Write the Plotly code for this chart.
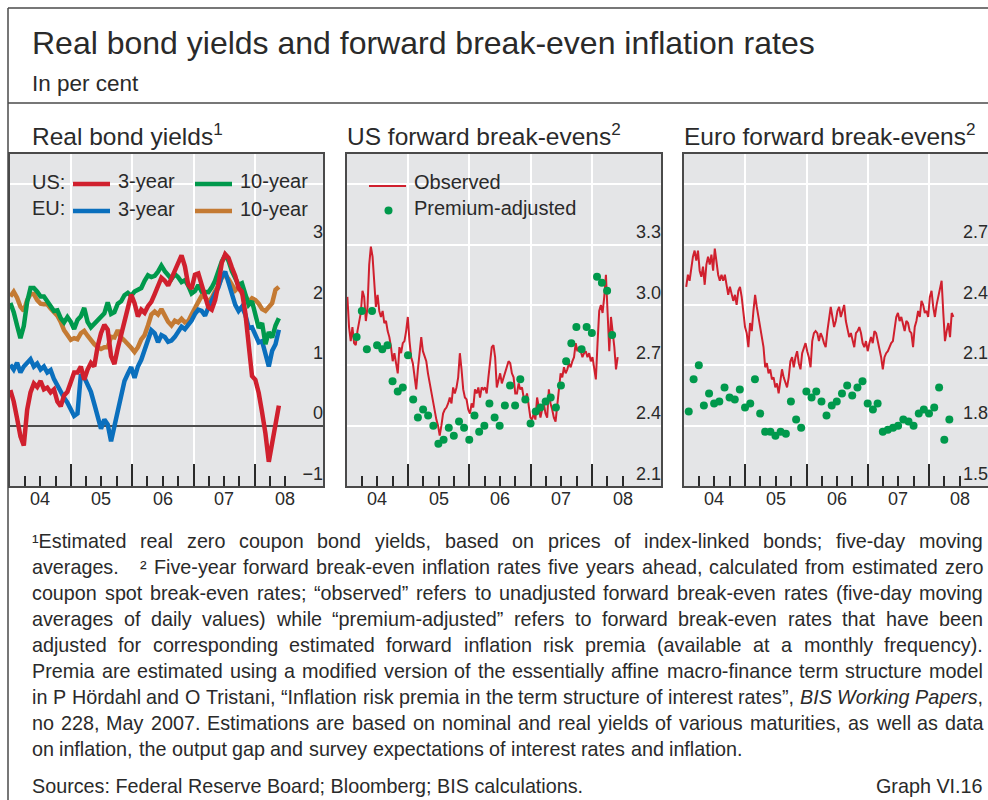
import re
import pandas as pd
import plotly.graph_objects as go

# ---------------------------------------------------------------- data
# Real zero coupon bond yields (five-day moving averages), every 20 days
real_dates = pd.date_range("2004-01-05", periods=81, freq="20D")
us_3y = [0.59, 0.40, 0.12, -0.18, -0.33, 0.26, 0.55, 0.70, 0.64, 0.74,
         0.60, 0.63, 0.55, 0.60, 0.40, 0.32, 0.50, 0.56, 0.72, 0.88,
         0.88, 0.98, 0.76, 0.93, 1.04, 0.98, 1.31, 1.53, 1.67, 1.59,
         1.15, 1.02, 1.28, 1.50, 1.76, 1.98, 2.17, 2.03, 1.81, 1.92,
         1.87, 1.98, 2.05,
         2.18, 2.30, 2.45, 2.40, 2.32, 2.44, 2.58, 2.68, 2.82, 2.64,
         2.33, 2.27, 2.50, 2.52, 2.32, 2.12, 1.96, 1.92, 2.08, 2.35,
         2.70, 2.84, 2.78, 2.62, 2.48, 2.28, 2.22, 1.87, 1.25, 0.82,
         0.76, 0.54, 0.22, -0.13, -0.60, -0.30, 0.09, 0.33]
us_10y = [2.03, 1.88, 1.66, 1.45, 1.65, 2.05, 2.28, 2.28, 2.22, 2.14,
          2.14, 2.05, 1.99, 1.90, 1.91, 1.78, 1.71, 1.80, 1.72, 1.60,
          1.75, 1.81, 1.95, 1.72, 1.63, 1.69, 1.76, 1.80, 1.86, 2.04,
          1.85, 1.88, 2.02, 2.06, 2.16, 2.20, 2.15, 2.22, 2.25, 2.28,
          2.40, 2.49, 2.46,
          2.48, 2.55, 2.65, 2.56, 2.49, 2.43, 2.51, 2.46, 2.38, 2.41,
          2.32, 2.19, 2.23, 2.33, 2.22, 2.22, 2.21, 2.29, 2.40, 2.56,
          2.72, 2.82, 2.73, 2.56, 2.44, 2.33, 2.36, 2.18, 2.00, 2.06,
          1.80, 1.62, 1.70, 1.35, 1.55, 1.46, 1.66, 1.78]
eu_3y = [1.01, 0.93, 1.04, 0.88, 0.98, 1.04, 1.10, 0.98, 1.03, 0.93,
         0.98, 0.88, 0.92, 0.77, 0.66, 0.55, 0.46, 0.38, 0.27, 0.16,
         0.20, 0.85, 0.80, 0.68, 0.56, 0.36, 0.15, -0.05, 0.10, 0.02,
         -0.26, -0.02, 0.26, 0.48, 0.74, 0.86, 0.97, 0.79, 0.98, 1.09,
         1.25, 1.42, 1.58,
         1.53, 1.38, 1.50, 1.47, 1.39, 1.41, 1.47, 1.57, 1.64, 1.60,
         1.66, 1.74, 1.85, 1.92, 1.90, 1.82, 1.96, 2.10, 2.19, 2.29,
         2.47, 2.55, 2.35, 2.15, 2.00, 1.90, 1.97, 1.84, 1.62, 1.63,
         1.50, 1.38, 1.40, 1.15, 0.98, 1.24, 1.35, 1.59]
eu_10y = [2.14, 2.22, 2.12, 1.97, 1.90, 2.08, 2.18, 2.18, 2.08, 2.02,
          2.01, 2.01, 1.94, 1.88, 1.82, 1.72, 1.58, 1.50, 1.42, 1.45,
          1.43, 1.53, 1.57, 1.49, 1.41, 1.35, 1.30, 1.27, 1.30, 1.30,
          1.47, 1.46, 1.58, 1.46, 1.41, 1.36, 1.29, 1.22, 1.30, 1.43,
          1.50, 1.66, 1.84,
          1.89, 1.84, 1.93, 1.82, 1.72, 1.66, 1.74, 1.71, 1.77, 1.71,
          1.73, 1.84, 1.96, 2.05, 2.15, 2.13, 2.05, 2.12, 2.23, 2.32,
          2.45, 2.50, 2.43, 2.32, 2.24, 2.29, 2.19, 2.15, 2.05, 2.11,
          2.08, 2.02, 1.93, 1.90, 1.97, 2.03, 2.25, 2.30]

# US five-year forward break-evens five years ahead
us_obs_dates = pd.date_range("2004-01-05", periods=162, freq="10D")
us_observed = [3.04, 2.89, 2.82, 2.89, 2.81, 2.80, 2.87, 2.92, 2.96, 3.07,
               3.04, 2.92, 2.99, 3.20, 3.29, 3.24, 3.12, 2.99, 3.05, 2.97,
               2.94, 2.97, 2.91, 2.92, 2.87, 2.84, 2.79, 2.72, 2.76, 2.71,
               2.66, 2.79, 2.76, 2.81, 2.82, 2.87, 2.94, 2.82, 2.74, 2.71,
               2.63, 2.58, 2.68, 2.77, 2.84, 2.77, 2.74, 2.72, 2.66, 2.61,
               2.58, 2.53, 2.48, 2.43, 2.40, 2.35, 2.40, 2.46, 2.48, 2.49,
               2.51, 2.54, 2.51, 2.59, 2.56, 2.59, 2.64, 2.76, 2.68, 2.58,
               2.54, 2.53, 2.48, 2.46, 2.51, 2.49, 2.58, 2.56, 2.59, 2.54,
               2.59, 2.58,
               2.59, 2.56, 2.64, 2.71, 2.79, 2.80, 2.74, 2.59, 2.63, 2.66,
               2.61, 2.64, 2.66, 2.69, 2.72, 2.71, 2.66, 2.64, 2.56, 2.56,
               2.61, 2.58, 2.59, 2.54, 2.53, 2.56, 2.51, 2.44, 2.43, 2.46,
               2.43, 2.54, 2.49, 2.44, 2.48, 2.51, 2.46, 2.44, 2.58, 2.51,
               2.48, 2.44, 2.42, 2.51, 2.59, 2.66, 2.64, 2.69, 2.66, 2.68,
               2.71, 2.69, 2.72, 2.74, 2.81, 2.77, 2.79, 2.77, 2.74, 2.76,
               2.77, 2.74, 2.76, 2.72, 2.74, 2.69, 2.63, 2.81, 2.97, 3.00,
               2.96, 3.04, 3.15, 2.96, 2.77, 2.94, 2.87, 2.79, 2.68, 2.74]
us_adj_dates = pd.date_range("2004-02-29", periods=51, freq=pd.offsets.MonthEnd())
us_adjusted = [2.84, 2.97, 2.78, 2.97, 2.80, 2.78, 2.80, 2.62, 2.57, 2.59,
               2.75, 2.53, 2.44, 2.48, 2.45, 2.40, 2.31, 2.33, 2.39, 2.35,
               2.42, 2.39, 2.33, 2.45, 2.37, 2.40, 2.51, 2.44, 2.40, 2.50,
               2.60, 2.50, 2.63, 2.53, 2.41, 2.47, 2.49, 2.52, 2.54, 2.49,
               2.60, 2.72, 2.81, 2.89, 2.78, 2.89, 2.86, 3.14, 3.11, 3.07,
               2.85]

# Euro area five-year forward break-evens five years ahead
eu_obs_dates = pd.date_range("2004-01-16", periods=160, freq="10D")
eu_observed = [2.49, 2.55, 2.52, 2.59, 2.64, 2.67, 2.62, 2.67, 2.57, 2.54,
               2.59, 2.50, 2.60, 2.64, 2.60, 2.65, 2.57, 2.68, 2.62, 2.55,
               2.52, 2.55, 2.52, 2.55, 2.50, 2.45, 2.49, 2.45, 2.42, 2.45,
               2.40, 2.47, 2.49, 2.44, 2.36, 2.29, 2.26, 2.19, 2.31, 2.27,
               2.37, 2.45, 2.39, 2.34, 2.31, 2.24, 2.19, 2.09, 2.11, 2.06,
               2.08, 2.03, 2.04, 1.99, 2.01, 1.96, 2.01, 2.08, 2.04, 2.01,
               1.99, 2.04, 2.12, 2.14, 2.09, 2.14, 2.17, 2.11, 2.08, 2.16,
               2.19, 2.21, 2.17, 2.14, 2.09, 2.22, 2.26, 2.27, 2.26, 2.22,
               2.26, 2.24,
               2.21, 2.19, 2.27, 2.34, 2.39, 2.34, 2.29, 2.32, 2.37, 2.39,
               2.34, 2.37, 2.40, 2.32, 2.27, 2.24, 2.26, 2.22, 2.19, 2.26,
               2.27, 2.29, 2.26, 2.21, 2.19, 2.22, 2.17, 2.21, 2.24, 2.21,
               2.27, 2.26, 2.22, 2.17, 2.14, 2.08, 2.14, 2.16, 2.17, 2.19,
               2.21, 2.22, 2.27, 2.34, 2.36, 2.32, 2.34, 2.31, 2.27, 2.32,
               2.31, 2.27, 2.26, 2.19, 2.29, 2.32, 2.37, 2.34, 2.42, 2.40,
               2.36, 2.37, 2.34, 2.44, 2.47, 2.39, 2.34, 2.40, 2.44, 2.47,
               2.52, 2.36, 2.22, 2.27, 2.31, 2.24, 2.36, 2.34]
eu_adj_dates = pd.date_range("2004-01-31", periods=52, freq=pd.offsets.MonthEnd())
eu_adjusted = [1.87, 2.03, 2.10, 1.90, 1.96, 1.91, 1.92, 1.99, 1.94, 1.93,
               1.98, 1.89, 1.91, 2.03, 1.86, 1.77, 1.77, 1.75, 1.77, 1.76,
               1.92, 1.83, 1.79, 1.97, 1.94, 1.97, 1.92, 1.85, 1.90, 1.92,
               1.96, 2.00, 1.95, 1.99, 2.02, 1.91, 1.88, 1.91, 1.77, 1.78,
               1.79, 1.80, 1.83, 1.82, 1.80, 1.86, 1.88, 1.86, 1.89, 1.99,
               1.73, 1.83]

# Axis ticks and labels
year_ticks = ["2005-01-01", "2006-01-01", "2007-01-01", "2008-01-01"]
quarter_ticks = ["2004-04-01", "2004-07-01", "2004-10-01", "2005-04-01",
                 "2005-07-01", "2005-10-01", "2006-04-01", "2006-07-01",
                 "2006-10-01", "2007-04-01", "2007-07-01", "2007-10-01",
                 "2008-04-01", "2008-07-01"]
year_label_pos = ["2004-07-01", "2005-07-01", "2006-07-01", "2007-07-01", "2008-07-01"]
year_labels = ["04", "05", "06", "07", "08"]

real_ticks = [-1, 0, 1, 2, 3, 4]
real_tick_text = ["\u22121", "0", "1", "2", "3", ""]
us_ticks = [2.1, 2.4, 2.7, 3.0, 3.3, 3.6]
us_tick_text = ["2.1", "2.4", "2.7", "3.0", "3.3", ""]
eu_ticks = [1.5, 1.8, 2.1, 2.4, 2.7, 3.0]
eu_tick_text = ["1.5", "1.8", "2.1", "2.4", "2.7", ""]

# ---------------------------------------------------------------- style
FONT = "Liberation Sans, Arial, Helvetica, sans-serif"
INK = "#2a2a2a"
FRAME = "#4a4a4a"
PLOT_BG = "#e4e5e7"
RED = "#d0202e"
GREEN = "#00994c"
BLUE = "#0a6fbd"
ORANGE = "#c47a33"

W, H = 988, 800
Y_TOP, Y_BOT = 154, 486          # plot area top / bottom in pixels


def px(x):
    return x / W


def py(y):
    return 1 - y / H


panels = [  # x-domain in pixels, end of the time range
    dict(x0=9.7, x1=323.0, end="2009-02-10"),
    dict(x0=346.7, x1=661.0, end="2009-02-15"),
    dict(x0=683.7, x1=988.0, end="2008-12-16"),
]

fig = go.Figure()

# Real bond yields
for dates, vals, col in [(real_dates, eu_10y, ORANGE), (real_dates, eu_3y, BLUE),
                         (real_dates, us_10y, GREEN), (real_dates, us_3y, RED)]:
    fig.add_trace(go.Scatter(x=dates, y=vals, mode="lines", xaxis="x", yaxis="y",
                             line=dict(color=col, width=4.5), hoverinfo="skip"))

# US forward break-evens
fig.add_trace(go.Scatter(x=us_obs_dates, y=us_observed, mode="lines", xaxis="x2", yaxis="y2",
                         line=dict(color=RED, width=2), hoverinfo="skip"))
fig.add_trace(go.Scatter(x=us_adj_dates, y=us_adjusted, mode="markers", xaxis="x2", yaxis="y2",
                         marker=dict(color=GREEN, size=8, line=dict(width=0)), hoverinfo="skip"))

# Euro forward break-evens
fig.add_trace(go.Scatter(x=eu_obs_dates, y=eu_observed, mode="lines", xaxis="x3", yaxis="y3",
                         line=dict(color=RED, width=2), hoverinfo="skip"))
fig.add_trace(go.Scatter(x=eu_adj_dates, y=eu_adjusted, mode="markers", xaxis="x3", yaxis="y3",
                         marker=dict(color=GREEN, size=8, line=dict(width=0)), hoverinfo="skip"))


def x_axis(p, anchor):
    return dict(domain=[px(p["x0"]), px(p["x1"])], range=["2004-01-01", p["end"]],
                type="date", anchor=anchor, tickmode="array", tickvals=year_ticks,
                ticks="inside", ticklen=22, tickwidth=1.5, tickcolor=INK,
                showticklabels=False, showgrid=True, gridcolor="white", gridwidth=1.5,
                showline=True, linecolor=FRAME, linewidth=1.5, mirror=True, zeroline=False,
                minor=dict(tickmode="array", tickvals=quarter_ticks, ticks="inside",
                           ticklen=10, tickwidth=1.5, tickcolor=INK, showgrid=False),
                fixedrange=True)


def y_axis(anchor, rng, vals, text, zero=False):
    return dict(domain=[py(Y_BOT), py(Y_TOP)], range=rng, anchor=anchor, side="right",
                tickmode="array", tickvals=vals, ticktext=text, ticks="",
                ticklabelposition="inside top", tickfont=dict(size=18, color=INK),
                showgrid=True, gridcolor="white", gridwidth=1.5,
                showline=True, linecolor=FRAME, linewidth=1.5, mirror=True,
                zeroline=zero, zerolinecolor="#4d4d4d", zerolinewidth=1.5, fixedrange=True)


fig.update_layout(
    width=W, height=H, margin=dict(l=0, r=0, t=0, b=0),
    paper_bgcolor="white", plot_bgcolor=PLOT_BG, showlegend=False,
    font=dict(family=FONT, color=INK),
    xaxis=x_axis(panels[0], "y"), xaxis2=x_axis(panels[1], "y2"), xaxis3=x_axis(panels[2], "y3"),
    yaxis=y_axis("x", [-1, 4.5], real_ticks, real_tick_text, zero=True),
    yaxis2=y_axis("x2", [2.1, 3.75], us_ticks, us_tick_text),
    yaxis3=y_axis("x3", [1.5, 3.15], eu_ticks, eu_tick_text),
)

annotations = []
shapes = []


def text(x, y, s, size, anchor="left", **kw):
    annotations.append(dict(x=px(x), y=py(y), xref="paper", yref="paper", text=s,
                            showarrow=False, xanchor=anchor, yanchor="middle",
                            borderpad=0, borderwidth=0,
                            font=dict(family=FONT, size=size, color=INK), **kw))


# Year labels under each panel
for xa in ["x", "x2", "x3"]:
    for pos, lab in zip(year_label_pos, year_labels):
        annotations.append(dict(x=pos, y=py(499), xref=xa, yref="paper", text=lab,
                                showarrow=False, xanchor="center", yanchor="middle",
                                font=dict(family=FONT, size=18, color=INK)))

# Titles
text(32, 43, "Real bond yields and forward break-even inflation rates", 32)
text(32, 84, "In per cent", 22.5)
text(32, 134, "Real bond yields<sup>1</sup>", 24.5)
text(347, 134, "US forward break-evens<sup>2</sup>", 24.5)
text(684, 134, "Euro forward break-evens<sup>2</sup>", 24.5)

# Legend of the real yields panel
text(32, 182, "US:", 20)
text(32, 208, "EU:", 20)
for (x0, y, col, lab) in [(73, 184, RED, "3-year"), (195, 184, GREEN, "10-year"),
                          (73, 211, BLUE, "3-year"), (195, 211, ORANGE, "10-year")]:
    shapes.append(dict(type="line", xref="paper", yref="paper", x0=px(x0), x1=px(x0 + 37),
                       y0=py(y), y1=py(y), line=dict(color=col, width=4.5)))
    text(x0 + 45, y - 2.5, lab, 20)

# Legend of the US break-even panel
shapes.append(dict(type="line", xref="paper", yref="paper", x0=px(369), x1=px(406),
                   y0=py(186), y1=py(186), line=dict(color=RED, width=2)))
shapes.append(dict(type="circle", xref="paper", yref="paper", x0=px(384.5), x1=px(392.5),
                   y0=py(214.5), y1=py(206.5), fillcolor=GREEN, line=dict(width=0)))
text(414, 182, "Observed", 20)
text(414, 208, "Premium-adjusted", 20)

# Outer frame
for x0, y0, x1, y1 in [(8, 8, 988, 8), (8, 8, 8, 800), (8, 103, 988, 103)]:
    shapes.append(dict(type="line", xref="paper", yref="paper", x0=px(x0), y0=py(y0),
                       x1=px(x1), y1=py(y1), line=dict(color=FRAME, width=1.5)))

# ---------------------------------------------------------------- footnotes
ADV = {" ": 278, ",": 278, ".": 278, ";": 278, ":": 278, "-": 333, "(": 333, ")": 333,
       "\u201c": 333, "\u201d": 333, "\u00f6": 556, "\u00b9": 333, "\u00b2": 333}
ADV.update({c: 556 for c in "0123456789"})
ADV.update(dict(zip("abcdefghijklmnopqrstuvwxyz",
                    [556, 556, 500, 556, 556, 278, 556, 556, 222, 222, 500, 222, 833,
                     556, 556, 556, 556, 333, 500, 278, 556, 500, 722, 500, 500, 500])))
ADV.update(dict(zip("ABCDEFGHIJKLMNOPQRSTUVWXYZ",
                    [667, 667, 722, 722, 667, 611, 778, 722, 278, 500, 667, 556, 833,
                     722, 778, 667, 778, 722, 667, 611, 722, 667, 944, 667, 667, 611])))


def units(word):
    return sum(ADV.get(c, 556) for c in re.sub(r"<[^>]+>", "", word))


notes = [
    ("\u00b9Estimated real zero coupon bond yields, based on prices of index-linked bonds; five-day moving", True),
    ("averages.   \u00b2 Five-year forward break-even inflation rates five years ahead, calculated from estimated zero", True),
    ("coupon spot break-even rates; \u201cobserved\u201d refers to unadjusted forward break-even rates (five-day moving", True),
    ("averages of daily values) while \u201cpremium-adjusted\u201d refers to forward break-even rates that have been", True),
    ("adjusted for corresponding estimated forward inflation risk premia (available at a monthly frequency).", True),
    ("Premia are estimated using a modified version of the essentially affine macro-finance term structure model", True),
    ("in P H\u00f6rdahl and O Tristani, \u201cInflation risk premia in the term structure of interest rates\u201d, <i>BIS</i> <i>Working</i> <i>Papers</i>,", True),
    ("no 228, May 2007. Estimations are based on nominal and real yields of various maturities, as well as data", True),
    ("on inflation, the output gap and survey expectations of interest rates and inflation.", False),
]
LEFT, RIGHT = 32, 983
natural = [sum(units(t) for t in s.split(" ")) + 278 * (len(s.split(" ")) - 1) for s, _ in notes]
fs = min(715 * 1000 / natural[-1], (RIGHT - LEFT) * 1000 / max(natural))

for i, (line, justify) in enumerate(notes):
    y = 541 + 26 * i
    words = line.split(" ")
    widths = [units(w) * fs / 1000 for w in words]
    gap = (RIGHT - LEFT - sum(widths)) / (len(words) - 1) if justify else 278 * fs / 1000
    x = LEFT
    for w, wd in zip(words, widths):
        if w:
            text(x, y, w, fs)
        x += wd + gap

text(32, 786, "Sources: Federal Reserve Board; Bloomberg; BIS calculations.", fs)
text(RIGHT, 786, "Graph VI.16", fs, anchor="right")

fig.update_layout(annotations=annotations, shapes=shapes)
fig.write_html("out.html")
